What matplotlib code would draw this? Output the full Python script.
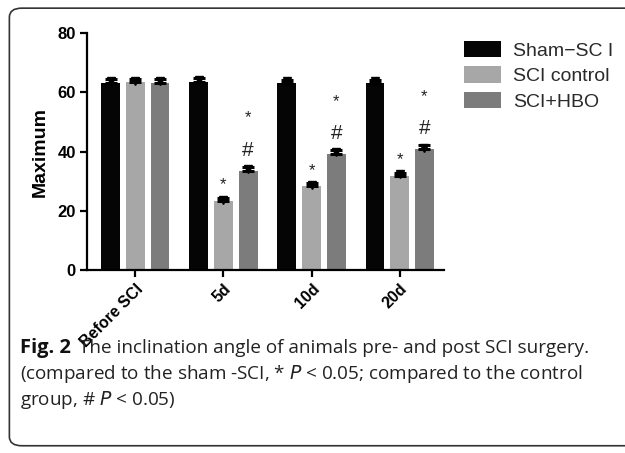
import matplotlib.pyplot as plt
import numpy as np
from matplotlib.patches import FancyBboxPatch

# data
groups = ['Before SCI', '5d', '10d', '20d']
series = ['Sham\u2212SC I', 'SCI control', 'SCI+HBO']
sham = [63.3, 63.5, 63.3, 63.3]
control = [63.6, 23.4, 28.2, 31.9]
hbo = [63.0, 33.5, 39.2, 40.7]
sham_err = [1.2, 1.2, 1.0, 1.0]
control_err = [0.8, 0.8, 1.2, 1.0]
hbo_err = [1.5, 1.3, 1.4, 1.4]
control_marks = ['', '*', '*', '*']
hbo_marks = ['', '#', '#', '#']

colors = ['#050505', '#a7a7a7', '#7c7c7c']

plt.rcParams['font.family'] = ['Liberation Sans', 'DejaVu Sans']

fig = plt.figure(figsize=(6.25, 4.53), dpi=100)
ax = fig.add_axes([0.139, 0.404, 0.571, 0.523])

x = np.arange(len(groups))
w = 0.215
step = 0.28
vals = [sham, control, hbo]
errs = [sham_err, control_err, hbo_err]
for i, (v, e, c, name) in enumerate(zip(vals, errs, colors, series)):
    xs = x + (i - 1) * step
    ax.bar(xs, v, w, color=c, label=name, zorder=2)
    ax.errorbar(xs, v, yerr=[np.zeros(len(e)), e], fmt='none', ecolor='black',
                elinewidth=1.5, capsize=4, capthick=2.2, zorder=3)
    # the little wedge under each cap
    ax.plot(xs, np.array(v) + np.array(e) * 0.45, 'v', color='black', ms=6, zorder=3)

for xi, v, e, m in zip(x, control, control_err, control_marks):
    if m:
        ax.text(xi, v + 5.3, m, ha='center', va='center', fontsize=12, color='#222222')
for xi, v, m in zip(x + step, hbo, hbo_marks):
    if m:
        ax.text(xi, v + 7.0, m, ha='center', va='center', fontsize=15, color='#222222')
        ax.text(xi, v + 17.8, '*', ha='center', va='center', fontsize=12, color='#222222')

ax.set_xlim(-0.55, 3.5)
ax.set_ylim(0, 80)
ax.set_yticks([0, 20, 40, 60, 80])
ax.set_xticks(x)
ax.set_xticklabels(groups, rotation=45, ha='right', rotation_mode='anchor',
                   fontweight='bold', fontsize=11.5)
for lbl in ax.get_yticklabels():
    lbl.set_fontweight('bold')
    lbl.set_fontsize(12)
ax.set_ylabel('Maximum', fontweight='bold', fontsize=14, labelpad=6)
for s in ['top', 'right']:
    ax.spines[s].set_visible(False)
for s in ['left', 'bottom']:
    ax.spines[s].set_linewidth(1.6)
ax.tick_params(width=1.6, length=5, pad=3)

ax.legend(loc='upper left', bbox_to_anchor=(1.035, 1.0), frameon=False,
          fontsize=14, handlelength=1.9, handleheight=0.9, handletextpad=0.6,
          labelspacing=0.35, borderaxespad=0, labelcolor='#2a2a2a')

# rounded frame around figure
frame = FancyBboxPatch((0.015, 0.016), 1.1, 0.966, boxstyle='round,pad=0,rounding_size=0.02',
                       transform=fig.transFigure, fill=False, edgecolor='#333333',
                       linewidth=1.2)
fig.patches.append(frame)

# caption
cap = 'Open Sans'
fs = 13.6
fig.text(0.032, 0.232, 'Fig. 2', fontsize=14.5, fontweight='bold', family=cap,
         va='center', color='#111111')
fig.text(0.127, 0.232, 'The inclination angle of animals pre- and post SCI surgery.',
         fontsize=fs, family=cap, va='center', color='#222222')
fig.text(0.032, 0.174, '(compared to the sham -SCI, * $P$ < 0.05; compared to the control',
         fontsize=fs, family=cap, va='center', color='#222222')
fig.text(0.032, 0.116, 'group, # $P$ < 0.05)', fontsize=fs, family=cap, va='center',
         color='#222222')

fig.savefig('out.png', dpi=100)
